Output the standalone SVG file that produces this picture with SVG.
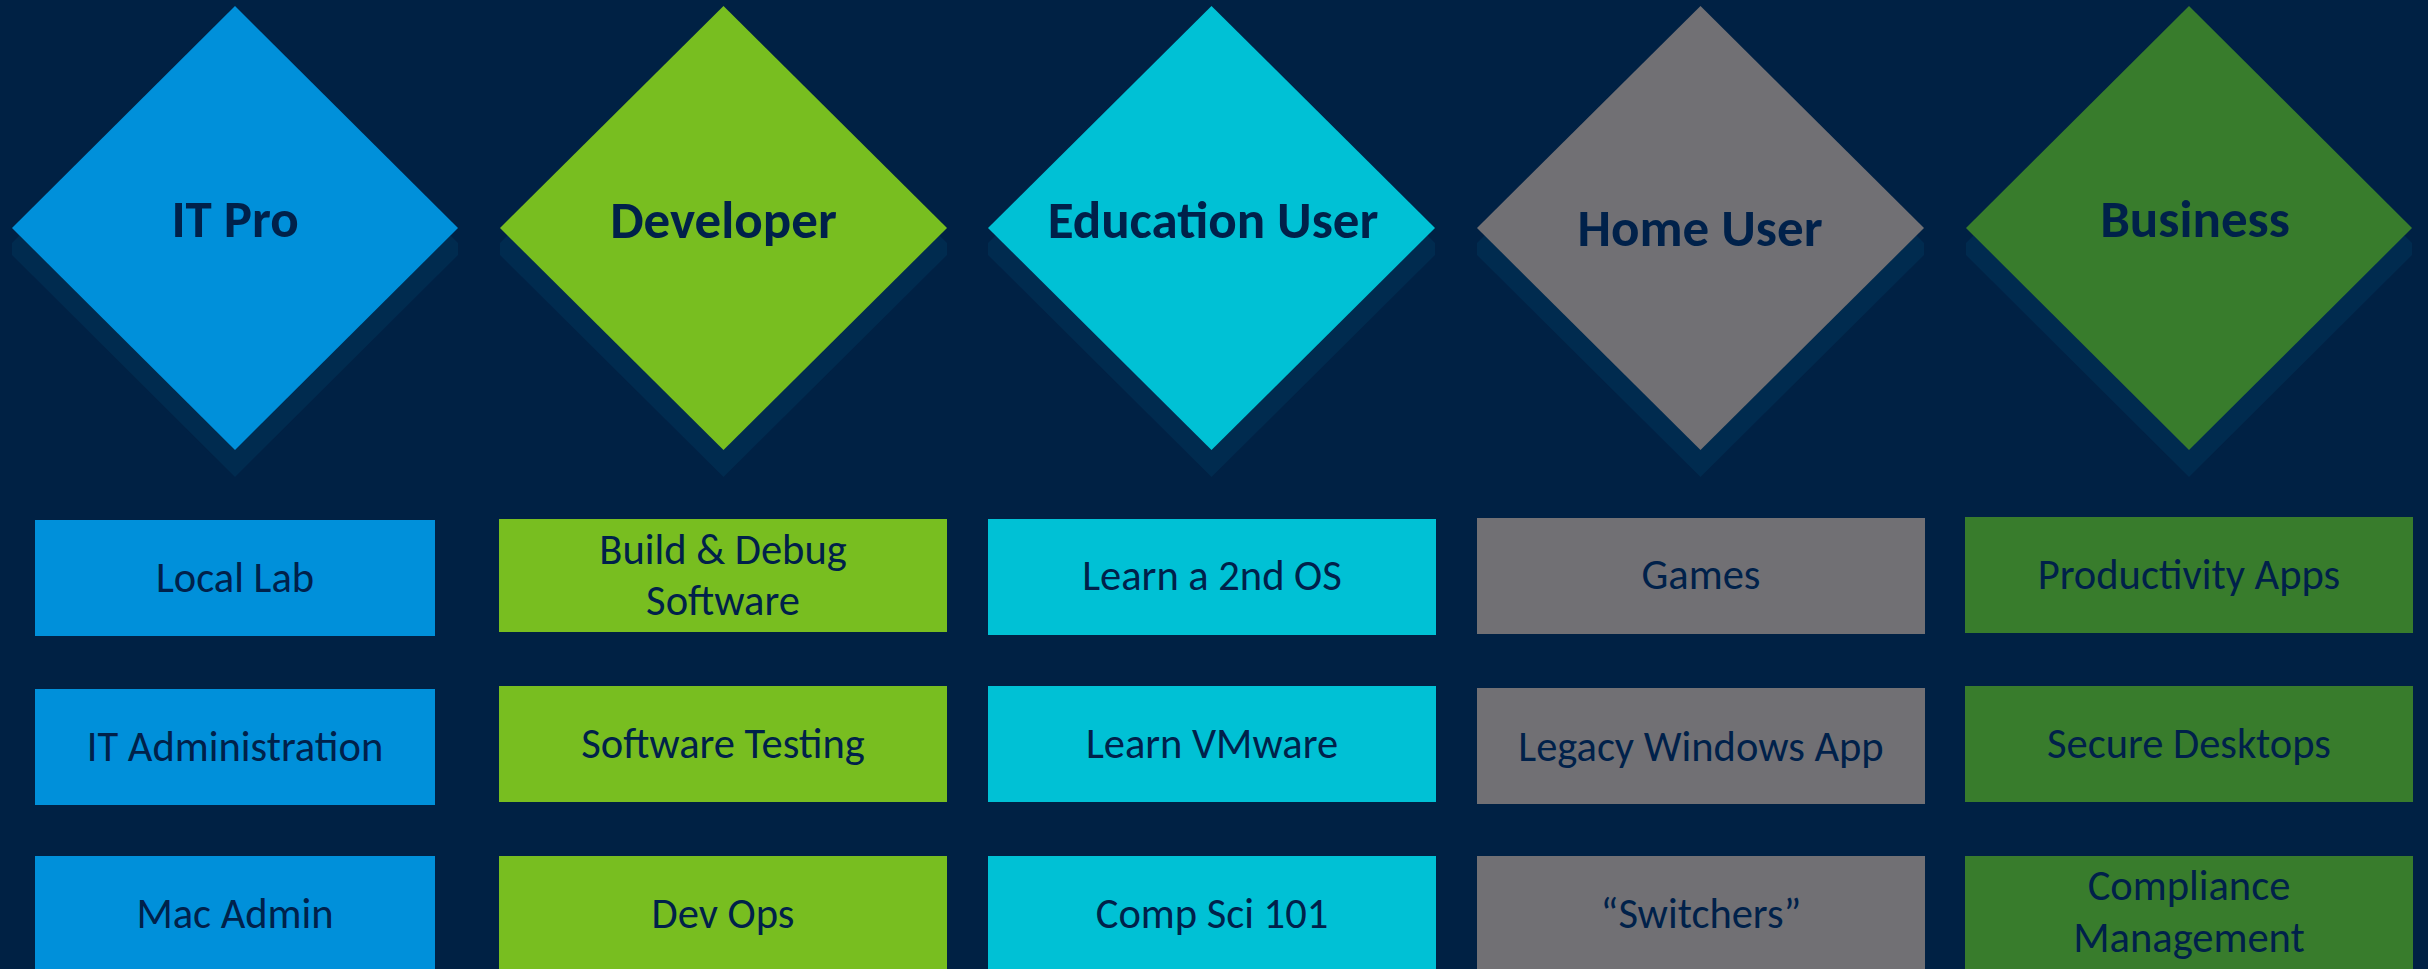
<svg xmlns="http://www.w3.org/2000/svg" width="2428" height="969" viewBox="0 0 2428 969">
<style>
.bg{fill:#002144}
.sh{fill:#002b4f}
.h{font-family:Carlito,Lato,"Open Sans",sans-serif;font-weight:bold;font-size:53px;fill:#00214a;text-anchor:middle}
.t{font-family:Carlito,Lato,"Open Sans",sans-serif;font-size:42.5px;fill:#00214a;text-anchor:middle}
.c1{fill:#0090da}
.c2{fill:#78be20}
.c3{fill:#00c1d5}
.c4{fill:#717074}
.c5{fill:#387c2c}
</style>
<rect class="bg" x="0" y="0" width="2428" height="969"/>
<g id="itpro">
<polygon class="sh" points="12,243 235,20 458,243 458,255 235,477 12,255"/>
<polygon class="c1" points="235,6 458,228 235,450 12,228"/>
<text class="h" x="235" y="237">IT Pro</text>
</g>
<g id="developer">
<polygon class="sh" points="500,243 723.5,20 947,243 947,255 723.5,477 500,255"/>
<polygon class="c2" points="723.5,6 947,228 723.5,450 500,228"/>
<text class="h" x="723.5" y="238">Developer</text>
</g>
<g id="education">
<polygon class="sh" points="988,243 1211.5,20 1435,243 1435,255 1211.5,477 988,255"/>
<polygon class="c3" points="1211.5,6 1435,228 1211.5,450 988,228"/>
<text class="h" x="1213" y="238">Education User</text>
</g>
<g id="home">
<polygon class="sh" points="1477,243 1700.5,20 1924,243 1924,255 1700.5,477 1477,255"/>
<polygon class="c4" points="1700.5,6 1924,228 1700.5,450 1477,228"/>
<text class="h" x="1700" y="246">Home User</text>
</g>
<g id="business">
<polygon class="sh" points="1966,243 2189,20 2412,243 2412,255 2189,477 1966,255"/>
<polygon class="c5" points="2189,6 2412,228 2189,450 1966,228"/>
<text class="h" x="2195" y="237">Business</text>
</g>
<g id="local-lab"><rect class="c1" x="35" y="520" width="400" height="116"/><text class="t" x="235" y="592">Local Lab</text></g>
<g id="it-administration"><rect class="c1" x="35" y="689" width="400" height="116"/><text class="t" x="235" y="761">IT Administration</text></g>
<g id="mac-admin"><rect class="c1" x="35" y="856" width="400" height="116"/><text class="t" x="235" y="928">Mac Admin</text></g>
<g id="build-debug"><rect class="c2" x="499" y="519" width="448" height="113"/><text class="t" x="723" y="564">Build &amp; Debug</text><text class="t" x="723" y="615">Software</text></g>
<g id="software-testing"><rect class="c2" x="499" y="686" width="448" height="116"/><text class="t" x="723" y="758">Software Testing</text></g>
<g id="dev-ops"><rect class="c2" x="499" y="856" width="448" height="116"/><text class="t" x="723" y="928">Dev Ops</text></g>
<g id="learn-2nd-os"><rect class="c3" x="988" y="519" width="448" height="116"/><text class="t" x="1212" y="590">Learn a 2nd OS</text></g>
<g id="learn-vmware"><rect class="c3" x="988" y="686" width="448" height="116"/><text class="t" x="1212" y="758">Learn VMware</text></g>
<g id="comp-sci"><rect class="c3" x="988" y="856" width="448" height="116"/><text class="t" x="1212" y="928">Comp Sci 101</text></g>
<g id="games"><rect class="c4" x="1477" y="518" width="448" height="116"/><text class="t" x="1701" y="589">Games</text></g>
<g id="legacy-windows"><rect class="c4" x="1477" y="688" width="448" height="116"/><text class="t" x="1701" y="761">Legacy Windows App</text></g>
<g id="switchers"><rect class="c4" x="1477" y="856" width="448" height="116"/><text class="t" x="1701" y="928">“Switchers”</text></g>
<g id="productivity-apps"><rect class="c5" x="1965" y="517" width="448" height="116"/><text class="t" x="2189" y="589">Productivity Apps</text></g>
<g id="secure-desktops"><rect class="c5" x="1965" y="686" width="448" height="116"/><text class="t" x="2189" y="758">Secure Desktops</text></g>
<g id="compliance"><rect class="c5" x="1965" y="856" width="448" height="116"/><text class="t" x="2189" y="900">Compliance</text><text class="t" x="2189" y="952">Management</text></g>
<g id="connectors"></g>
</svg>
